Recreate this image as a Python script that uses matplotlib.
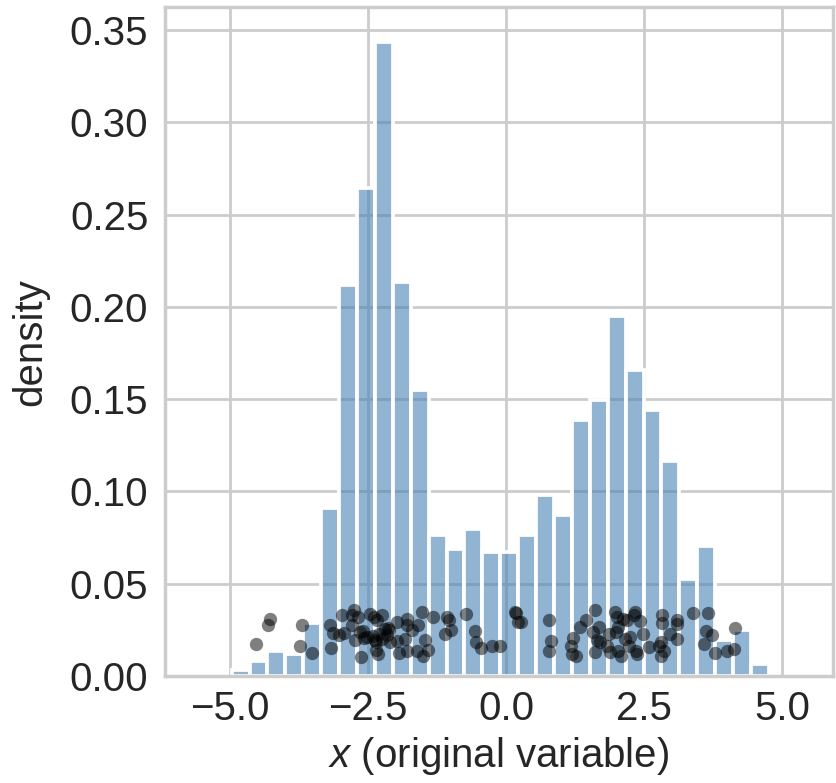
import matplotlib
matplotlib.use("Agg")
import matplotlib.pyplot as plt
import numpy as np

# ---- data ----
bin_left = -4.973
bin_width = 0.3244
density = [0.0030, 0.0084, 0.0138, 0.0120, 0.0286, 0.0908, 0.2118, 0.2647,
           0.3437, 0.2136, 0.1550, 0.0762, 0.0690, 0.0798, 0.0670, 0.0670,
           0.0762, 0.0983, 0.0870, 0.1386, 0.1496, 0.1953, 0.1658, 0.1440,
           0.1163, 0.0523, 0.0706, 0.0193, 0.0248, 0.0066]

pts_x = [-4.28, -4.31, -4.53, -3.69, -3.74, -3.51, -3.18, -3.20, -3.13, -3.02,
         -2.98, -2.93, -2.75, -2.80, -2.68, -2.74, -2.63, -2.59, -2.52, -2.46,
         -2.40, -2.34, -2.25, -2.37, -2.36, -2.32, -2.19, -2.13, -2.16, -2.10,
         -1.98, -1.95, -1.84, -1.80, -1.79, -1.80, -1.59, -1.53, -1.62, -1.51,
         -1.47, -1.41, -1.33, -1.07, -1.04, -1.10, -1.00, -0.72, -0.56, -0.54,
         -0.45, -0.26, -0.11, 0.16, 0.22,
         -2.80, -2.64, -2.58, -2.42, -2.36, -2.30, -2.25, -2.14, -1.98, -1.70,
         0.18, 0.27, 0.77, 0.82, 0.77, 1.21, 1.17, 1.19, 1.27, 1.33,
         1.45, 1.61, 1.58, 1.69, 1.64, 1.70, 1.61, 1.82, 1.87, 1.88,
         1.97, 2.01, 2.02, 1.99, 2.03, 2.08, 2.11, 2.16, 2.19, 2.22,
         2.25, 2.31, 2.34, 2.43, 2.36, 2.37, 2.48, 2.58, 2.76, 2.80,
         2.82, 2.82, 2.85, 2.81, 2.96, 3.09, 3.09, 3.09, 3.39, 3.65,
         3.62, 3.73, 3.59, 3.79, 4.00, 4.12, 4.14]
pts_y = [0.0310, 0.0279, 0.0175, 0.0278, 0.0165, 0.0124, 0.0153, 0.0279, 0.0232, 0.0220,
         0.0328, 0.0232, 0.0359, 0.0328, 0.0319, 0.0193, 0.0102, 0.0243, 0.0210, 0.0337,
         0.0319, 0.0301, 0.0328, 0.0193, 0.0142, 0.0117, 0.0256, 0.0247, 0.0220, 0.0183,
         0.0292, 0.0124, 0.0202, 0.0138, 0.0310, 0.0274, 0.0274, 0.0346, 0.0138, 0.0111,
         0.0193, 0.0142, 0.0319, 0.0319, 0.0305, 0.0229, 0.0251, 0.0334, 0.0243, 0.0183,
         0.0153, 0.0160, 0.0160, 0.0346, 0.0292,
         0.0275, 0.0240, 0.0205, 0.0215, 0.0185, 0.0230, 0.0200, 0.0260, 0.0190, 0.0250,
         0.0341, 0.0292, 0.0301, 0.0189, 0.0134, 0.0207, 0.0160, 0.0120, 0.0111, 0.0265,
         0.0305, 0.0355, 0.0238, 0.0268, 0.0193, 0.0183, 0.0129, 0.0165, 0.0229, 0.0129,
         0.0346, 0.0319, 0.0268, 0.0238, 0.0138, 0.0106, 0.0310, 0.0202, 0.0301, 0.0160,
         0.0210, 0.0328, 0.0346, 0.0297, 0.0134, 0.0117, 0.0225, 0.0156, 0.0160, 0.0183,
         0.0328, 0.0286, 0.0138, 0.0111, 0.0229, 0.0305, 0.0283, 0.0202, 0.0341, 0.0341,
         0.0243, 0.0220, 0.0175, 0.0124, 0.0133, 0.0147, 0.0261]

xticks = [-5.0, -2.5, 0.0, 2.5, 5.0]
yticks = [0.00, 0.05, 0.10, 0.15, 0.20, 0.25, 0.30, 0.35]

# ---- style ----
plt.rcParams['font.family'] = ['Liberation Sans', 'DejaVu Sans']
plt.rcParams['mathtext.fontset'] = 'custom'
plt.rcParams['mathtext.it'] = 'Liberation Sans:italic'
plt.rcParams['mathtext.rm'] = 'Liberation Sans'
txt = '#262626'
gridc = '#cccccc'

fig = plt.figure(figsize=(8.36, 7.83), dpi=100)
ax = fig.add_axes([165/836, 1-676/783, (833-165)/836, (676-7.3)/783])

edges = bin_left + bin_width*np.arange(len(density))
face = matplotlib.colors.to_rgba('steelblue', 0.6)
ax.bar(edges, density, width=bin_width, align='edge', facecolor=face,
       edgecolor='white', linewidth=2.7, zorder=2)
ax.scatter(pts_x, pts_y, s=92, color='black', alpha=0.5, linewidths=0, zorder=3)

ax.set_xlim(-6.18, 5.92)
ax.set_ylim(0, 0.3624)
ax.set_xticks(xticks)
ax.set_yticks(yticks)
ax.set_xticklabels([f"{v:.1f}".replace('-', '\u2212') for v in xticks])
ax.set_yticklabels([f"{v:.2f}" for v in yticks])
ax.set_axisbelow(True)
ax.grid(True, color=gridc, linewidth=2.0)
for s in ax.spines.values():
    s.set_color(gridc)
    s.set_linewidth(2.5)
    s.set_zorder(4)
ax.tick_params(axis='both', length=0, labelsize=29, labelcolor=txt)
ax.tick_params(axis='x', pad=10)
ax.tick_params(axis='y', pad=12)
ax.set_xlabel(r'$x$ (original variable)', fontsize=29, color=txt, labelpad=5)
ax.set_ylabel('density', fontsize=29, color=txt, labelpad=15)

fig.savefig('out.png', dpi=100)
